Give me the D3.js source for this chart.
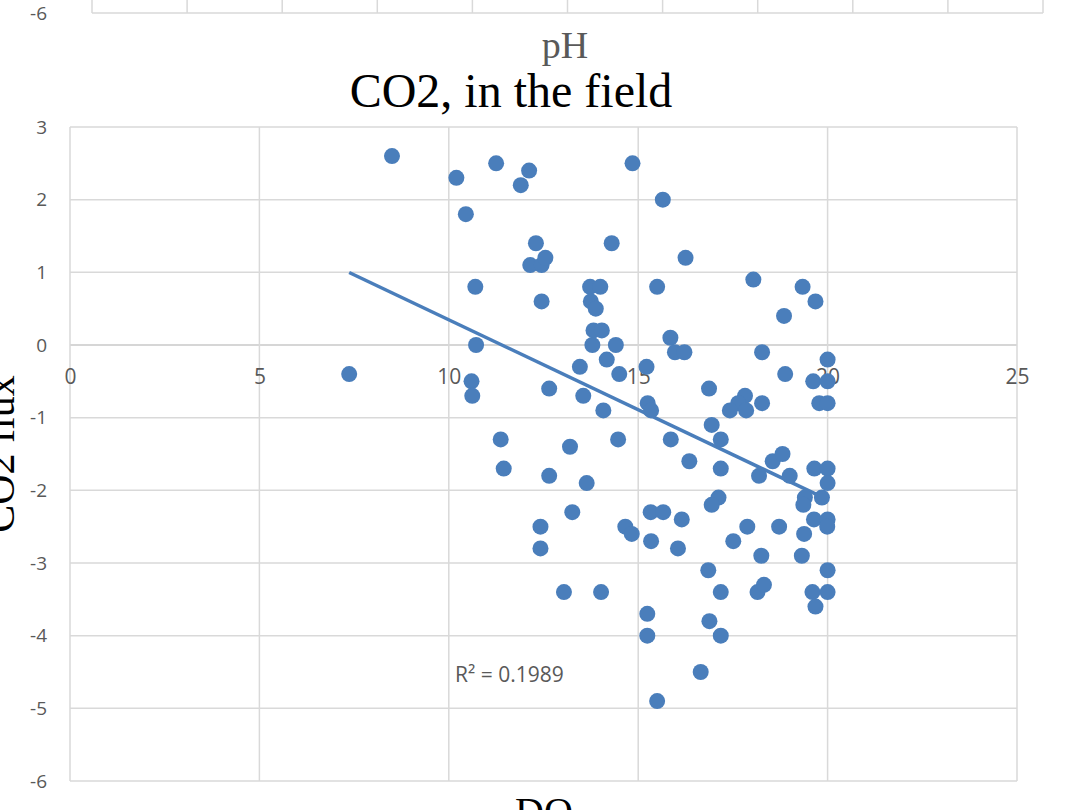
<!DOCTYPE html>
<html>
<head>
<meta charset="utf-8">
<script src="https://cdn.jsdelivr.net/npm/d3@7"></script>
<style>
  html, body { margin: 0; padding: 0; background: #fff; }
  svg { display: block; }
</style>
</head>
<body>
<svg id="chart" width="1075" height="810"></svg>
<script>
// ---- data ----
const doValues = [
  7.37, 8.5, 10.2, 10.45, 11.25, 11.9, 12.12, 10.7, 10.72, 10.6,
  10.62, 12.3, 12.15, 12.45, 12.55, 12.45, 14.85, 15.65, 14.3, 16.25,
  15.5, 13.73, 14.0, 13.75, 13.88, 13.82, 14.04, 13.79, 14.41, 14.17,
  13.46, 14.5, 15.22, 12.65, 13.55, 14.08, 15.25, 15.34, 15.85, 15.97,
  16.22, 11.37, 11.45, 12.65, 13.2, 13.64, 14.47, 15.86, 16.35, 13.26,
  12.42, 12.42, 14.66, 14.83, 15.33, 15.66, 16.15, 15.34, 16.05, 13.04,
  14.02, 15.24, 15.24, 15.5, 16.65,
  18.04, 19.34, 19.68, 18.85, 18.27, 20.0, 18.88, 19.62, 20.0, 16.87,
  17.82, 17.64, 17.42, 17.85, 18.27, 19.78, 20.0, 16.94, 17.18, 17.18,
  18.19, 18.55, 18.81, 19.0, 19.65, 20.0, 20.0, 19.4, 19.36, 19.85,
  17.12, 16.94, 19.64, 20.0, 19.99, 17.88, 18.72, 17.51, 19.38, 18.25,
  19.32, 16.85, 20.0, 17.18, 18.15, 18.32, 19.6, 20.0, 19.68, 16.88,
  17.18
];
const co2Flux = [
  -0.4, 2.6, 2.3, 1.8, 2.5, 2.2, 2.4, 0.8, 0.0, -0.5,
  -0.7, 1.4, 1.1, 1.1, 1.2, 0.6, 2.5, 2.0, 1.4, 1.2,
  0.8, 0.8, 0.8, 0.6, 0.5, 0.2, 0.2, 0.0, 0.0, -0.2,
  -0.3, -0.4, -0.3, -0.6, -0.7, -0.9, -0.8, -0.9, 0.1, -0.1,
  -0.1, -1.3, -1.7, -1.8, -1.4, -1.9, -1.3, -1.3, -1.6, -2.3,
  -2.5, -2.8, -2.5, -2.6, -2.3, -2.3, -2.4, -2.7, -2.8, -3.4,
  -3.4, -3.7, -4.0, -4.9, -4.5,
  0.9, 0.8, 0.6, 0.4, -0.1, -0.2, -0.4, -0.5, -0.5, -0.6,
  -0.7, -0.8, -0.9, -0.9, -0.8, -0.8, -0.8, -1.1, -1.3, -1.7,
  -1.8, -1.6, -1.5, -1.8, -1.7, -1.7, -1.9, -2.1, -2.2, -2.1,
  -2.1, -2.2, -2.4, -2.4, -2.5, -2.5, -2.5, -2.7, -2.6, -2.9,
  -2.9, -3.1, -3.1, -3.4, -3.4, -3.3, -3.4, -3.4, -3.6, -3.8,
  -4.0
];
const xTicks = [0, 5, 10, 15, 20, 25];
const yTicks = [3, 2, 1, 0, -1, -2, -3, -4, -5, -6];
const titleText = "CO2, in the field";
const xLabelText = "DO";
const yLabelText = "CO2 flux";
const r2Text = "R² = 0.1989";
// remnant of the chart above (pH)
const prevTitle = "pH";
const prevYTick = "-6";
const prevGridIdx = [0, 1, 2, 3, 4, 5, 6, 7, 8, 9, 10];

// ---- drawing ----
const svg = d3.select("#chart");
svg.append("rect").attr("width", 1075).attr("height", 810).attr("fill", "#fff");

const gridColor = "#D9D9D9";
const tickColor = "#595959";
const blue = "#4A7EBB";
const tickFont = "'Open Sans', 'Liberation Sans', sans-serif";
const serif = "'Liberation Serif', 'DejaVu Serif', serif";
const fmt = d => String(d);

// remnant chart at top
const prevX = d3.scaleLinear().domain([0, 10]).range([92, 1043]);
svg.append("g").selectAll("line").data(prevGridIdx).join("line")
  .attr("x1", d => prevX(d)).attr("x2", d => prevX(d))
  .attr("y1", 0).attr("y2", 13)
  .attr("stroke", gridColor).attr("stroke-width", 1.5);
svg.append("line").attr("x1", prevX(0)).attr("x2", prevX(10))
  .attr("y1", 13).attr("y2", 13).attr("stroke", gridColor).attr("stroke-width", 1.5);
svg.append("text").attr("x", 47).attr("y", 13).attr("dy", "0.35em")
  .attr("text-anchor", "end").attr("font-family", tickFont)
  .attr("font-size", 19).attr("fill", tickColor).text(prevYTick);
svg.append("text").attr("x", 565).attr("y", 58)
  .attr("text-anchor", "middle").attr("font-family", serif)
  .attr("font-size", 38).attr("fill", tickColor).text(prevTitle);

// main chart scales
const x = d3.scaleLinear().domain([0, 25]).range([70, 1017]);
const y = d3.scaleLinear().domain([-6, 3]).range([781, 127]);

// gridlines
svg.append("g").selectAll("line").data(yTicks).join("line")
  .attr("x1", x(0)).attr("x2", x(25))
  .attr("y1", d => y(d)).attr("y2", d => y(d))
  .attr("stroke", d => d === 0 ? "#C8C8C8" : gridColor).attr("stroke-width", 1.5);
svg.append("g").selectAll("line").data(xTicks).join("line")
  .attr("x1", d => x(d)).attr("x2", d => x(d))
  .attr("y1", y(3)).attr("y2", y(-6))
  .attr("stroke", gridColor).attr("stroke-width", 1.5);

// y axis labels
const yAxis = svg.append("g").attr("transform", `translate(${x(0)},0)`)
  .call(d3.axisLeft(y).tickValues(yTicks).tickFormat(fmt).tickSize(0).tickPadding(23));
yAxis.select(".domain").remove();
yAxis.selectAll("text").attr("font-family", tickFont).attr("font-size", 19).attr("fill", tickColor);

// x axis labels (axis crosses at y = 0)
const xAxis = svg.append("g").attr("transform", `translate(0,${y(0)})`)
  .call(d3.axisBottom(x).tickValues(xTicks).tickFormat(fmt).tickSize(0).tickPadding(24));
xAxis.select(".domain").remove();
xAxis.selectAll("text").attr("font-family", tickFont).attr("font-size", 21).attr("fill", tickColor);

// linear trendline (least squares on the data)
const n = doValues.length;
const mx = d3.mean(doValues), my = d3.mean(co2Flux);
let sxy = 0, sxx = 0;
for (let i = 0; i < n; i++) {
  sxy += (doValues[i] - mx) * (co2Flux[i] - my);
  sxx += (doValues[i] - mx) ** 2;
}
const slope = sxy / sxx, intercept = my - slope * mx;
const [xmin, xmax] = d3.extent(doValues);
svg.append("line")
  .attr("x1", x(xmin)).attr("y1", y(intercept + slope * xmin))
  .attr("x2", x(xmax)).attr("y2", y(intercept + slope * xmax))
  .attr("stroke", blue).attr("stroke-width", 3.5);

// points
svg.append("g").selectAll("circle").data(doValues.map((d, i) => [d, co2Flux[i]])).join("circle")
  .attr("cx", d => x(d[0])).attr("cy", d => y(d[1])).attr("r", 8)
  .attr("fill", blue);

// R² label
svg.append("text").attr("x", 455).attr("y", 682)
  .attr("font-family", tickFont).attr("font-size", 21).attr("fill", tickColor).text(r2Text);

// title
svg.append("text").attr("x", 511).attr("y", 107)
  .attr("text-anchor", "middle").attr("font-family", serif)
  .attr("font-size", 48).attr("fill", "#000").text(titleText);

// axis titles (cut by the picture edge, as in the reference)
svg.append("text").attr("transform", `translate(14,${(y(3) + y(-6)) / 2}) rotate(-90)`)
  .attr("text-anchor", "middle").attr("font-family", serif)
  .attr("font-size", 42).attr("fill", "#000").text(yLabelText);
svg.append("text").attr("x", 544).attr("y", 825)
  .attr("text-anchor", "middle").attr("font-family", serif)
  .attr("font-size", 40).attr("fill", "#000").text(xLabelText);
</script>
</body>
</html>
